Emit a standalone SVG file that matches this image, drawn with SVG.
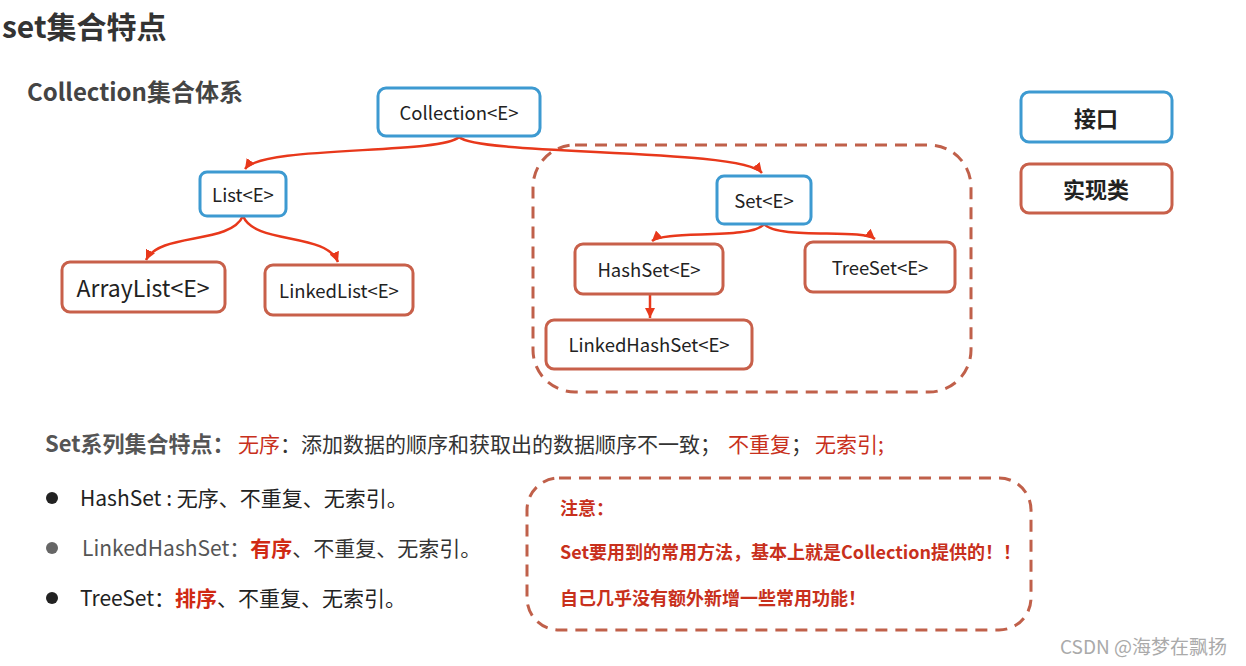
<svg xmlns="http://www.w3.org/2000/svg" width="1246" height="666" viewBox="0 0 1246 666">
<style>
  .f{font-family:"Noto Sans CJK SC","Noto Sans",sans-serif}
  .iface{fill:#fff;stroke:#3d9ad1;stroke-width:3}
  .impl{fill:#fff;stroke:#c8604a;stroke-width:3}
  .lbl{font-family:"Noto Sans CJK SC","Noto Sans",sans-serif;fill:#222;text-anchor:middle;dominant-baseline:central}
  .conn{fill:none;stroke:#e8381b;stroke-width:2.5}
  .dash{fill:none;stroke:#c0604a;stroke-width:3;stroke-dasharray:12 8}
  .red{fill:#c8301c}
</style>
<defs>
  <marker id="ah" markerUnits="userSpaceOnUse" markerWidth="12" markerHeight="12" refX="10" refY="5" orient="auto">
    <path d="M0,0 L10,5 L0,10 Z" fill="#e8381b"/>
  </marker>
</defs>
<rect width="1246" height="666" fill="#fff"/>

<text class="f" x="2" y="38" font-size="30" font-weight="bold" fill="#333">set集合特点</text>
<text class="f" x="27" y="101" font-size="24" font-weight="bold" fill="#444">Collection集合体系</text>

<rect class="dash" x="533" y="145" width="438" height="247" rx="42"/>

<g id="connectors">
  <path class="conn" d="M459,137 C440,155 262,145 245,169" marker-end="url(#ah)"/>
  <path class="conn" d="M459,137 C480,156 742,148 762,173" marker-end="url(#ah)"/>
  <path class="conn" d="M243,216 C230,245 160,232 146,260" marker-end="url(#ah)"/>
  <path class="conn" d="M243,216 C255,245 326,232 338,262" marker-end="url(#ah)"/>
  <path class="conn" d="M764,224 C752,240 664,230 652,241" marker-end="url(#ah)"/>
  <path class="conn" d="M764,224 C778,240 862,228 875,239" marker-end="url(#ah)"/>
  <path class="conn" d="M650,294 L650,318" marker-end="url(#ah)"/>
</g>

<g id="collection"><rect class="iface" x="378" y="88" width="162" height="48" rx="8"/><text class="lbl" x="459" y="112" font-size="18.5">Collection&lt;E&gt;</text></g>
<g id="list"><rect class="iface" x="200" y="172" width="86" height="44" rx="7"/><text class="lbl" x="243" y="194" font-size="18.5">List&lt;E&gt;</text></g>
<g id="arraylist"><rect class="impl" x="62" y="262" width="163" height="50" rx="8"/><text class="lbl" x="143" y="287" font-size="23">ArrayList&lt;E&gt;</text></g>
<g id="linkedlist"><rect class="impl" x="265" y="265" width="148" height="50" rx="8"/><text class="lbl" x="339" y="290" font-size="18.5">LinkedList&lt;E&gt;</text></g>
<g id="set"><rect class="iface" x="717" y="176" width="94" height="48" rx="7"/><text class="lbl" x="764" y="200" font-size="18.5">Set&lt;E&gt;</text></g>
<g id="hashset"><rect class="impl" x="575" y="244" width="148" height="50" rx="8"/><text class="lbl" x="649" y="269" font-size="18.5">HashSet&lt;E&gt;</text></g>
<g id="treeset"><rect class="impl" x="805" y="242" width="150" height="50" rx="8"/><text class="lbl" x="880" y="267" font-size="18.5">TreeSet&lt;E&gt;</text></g>
<g id="linkedhashset"><rect class="impl" x="546" y="320" width="206" height="49" rx="8"/><text class="lbl" x="649" y="344" font-size="18.5">LinkedHashSet&lt;E&gt;</text></g>

<g id="legend-interface"><rect class="iface" x="1021" y="92" width="151" height="50" rx="8"/><text class="lbl" x="1096" y="117" font-size="22" font-weight="bold">接口</text></g>
<g id="legend-impl"><rect class="impl" x="1021" y="164" width="151" height="49" rx="8"/><text class="lbl" x="1096" y="188" font-size="22" font-weight="bold">实现类</text></g>

<text class="f" y="452" font-size="21">
  <tspan x="45" font-weight="bold" fill="#555" font-size="22">Set系列集合特点：</tspan><tspan x="238" class="red">无序</tspan><tspan fill="#333">：添加数据的顺序和获取出的数据顺序不一致；</tspan><tspan x="728" class="red">不重复</tspan><tspan fill="#333">；</tspan><tspan x="815" class="red">无索引;</tspan>
</text>

<circle cx="52" cy="498" r="6" fill="#222"/>
<circle cx="52" cy="548" r="6" fill="#666"/>
<circle cx="52" cy="598" r="6" fill="#222"/>
<text class="f" x="80" y="506" font-size="21" fill="#222">HashSet : 无序、不重复、无索引。</text>
<text class="f" x="82" y="556" font-size="21" fill="#333"><tspan fill="#555">LinkedHashSet：</tspan><tspan font-weight="bold" fill="#d02a14">有序</tspan>、不重复、无索引。</text>
<text class="f" x="80" y="606" font-size="21" fill="#222">TreeSet：<tspan font-weight="bold" fill="#d02a14">排序</tspan>、不重复、无索引。</text>

<g id="note">
  <rect class="dash" x="527" y="478" width="504" height="152" rx="32"/>
  <text class="f red" x="560" y="515" font-size="18" font-weight="bold">注意：</text>
  <text class="f red" x="560" y="559" font-size="18" font-weight="bold">Set要用到的常用方法，基本上就是Collection提供的！！</text>
  <text class="f red" x="560" y="605" font-size="18" font-weight="bold">自己几乎没有额外新增一些常用功能！</text>
</g>

<text class="f" x="1060" y="654" font-size="19" fill="#aaa">CSDN @海梦在飘扬</text>
</svg>
